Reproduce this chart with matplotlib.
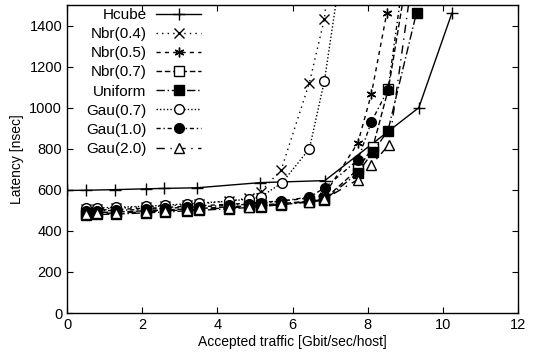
import numpy as np
import matplotlib
matplotlib.use("Agg")
import matplotlib.pyplot as plt

plt.rcParams['font.family'] = ['Liberation Sans', 'DejaVu Sans']
plt.rcParams['font.size'] = 10

# data
x_hcube = [0.0, 0.5, 1.28, 2.1, 2.58, 3.46, 5.13, 6.86, 9.36, 10.24]
y_hcube = [597, 598, 601, 605, 607, 610, 635, 645, 1000, 1460]

x_flat = [0.5, 0.8, 1.3, 2.1, 2.6, 3.2, 3.5, 4.3, 4.85, 5.15]

x_nbr04 = x_flat + [5.7, 6.45, 6.85, 7.1]
y_nbr04 = [505, 508, 510, 518, 522, 528, 532, 545, 560, 590, 698, 1122, 1434, 1900]

x_nbr05 = x_flat + [5.7, 6.45, 6.85, 7.74, 8.1, 8.51]
y_nbr05 = [500, 502, 505, 510, 514, 520, 522, 530, 535, 540, 545, 560, 575, 829, 1068, 1463]

x_nbr07 = x_flat + [5.7, 6.45, 6.85, 7.74, 8.14, 8.55, 9.1]
y_nbr07 = [488, 490, 492, 498, 502, 507, 509, 517, 522, 526, 533, 545, 555, 700, 810, 1090, 1700]

x_unif = x_flat + [5.7, 6.45, 6.85, 7.74, 8.14, 8.54, 9.3]
y_unif = [478, 480, 482, 488, 492, 498, 500, 508, 514, 518, 528, 540, 550, 683, 785, 888, 1463]

x_gau07 = x_flat + [5.72, 6.45, 6.85, 7.8]
y_gau07 = [510, 512, 515, 520, 525, 532, 535, 545, 555, 565, 634, 800, 1132, 2300]

x_gau10 = x_flat + [5.7, 6.45, 6.86, 7.74, 8.1, 8.54, 9.0]
y_gau10 = [495, 497, 500, 505, 510, 515, 517, 525, 530, 535, 545, 565, 610, 746, 932, 1088, 1700]

x_gau20 = x_flat + [5.7, 6.45, 6.85, 7.74, 8.1, 8.57, 9.2]
y_gau20 = [483, 485, 487, 493, 497, 503, 505, 512, 518, 522, 530, 543, 555, 650, 722, 820, 1650]

fig = plt.figure(figsize=(5.37, 3.59), dpi=100)
ax = fig.add_axes([0.1248, 0.128, 0.8398, 0.858])

k = dict(color='black', lw=1.0, ms=7, clip_on=True)
ax.plot(x_hcube, y_hcube, '-', marker='+', ms=9, mew=1.0, label='Hcube', color='black', lw=1.0)
ax.plot(x_nbr04, y_nbr04, linestyle=(0, (1, 3)), marker='x', mew=1.0, label='Nbr(0.4)', **k)
ax.plot(x_nbr05, y_nbr05, linestyle=(0, (3, 3)), marker=(6, 2, 0), mew=1.0, label='Nbr(0.5)', **k)
ax.plot(x_nbr07, y_nbr07, linestyle=(0, (4, 2)), marker='s', mfc='white', mew=1.0, label='Nbr(0.7)', **k)
ax.plot(x_unif, y_unif, linestyle=(0, (6, 2, 1, 2)), marker='s', mfc='black', label='Uniform', **k)
ax.plot(x_gau07, y_gau07, linestyle=(0, (1, 1.5)), marker='o', mfc='white', mew=1.0, label='Gau(0.7)', **k)
ax.plot(x_gau10, y_gau10, linestyle=(0, (3, 2, 1, 2)), marker='o', mfc='black', label='Gau(1.0)', **k)
ax.plot(x_gau20, y_gau20, linestyle=(0, (6, 4, 1, 4)), marker='^', mfc='white', mew=1.0, label='Gau(2.0)', **k)

ax.set_xlim(0, 12)
ax.set_ylim(0, 1500)
ax.set_xticks(np.arange(0, 13, 2))
ax.set_yticks(np.arange(0, 1401, 200))
ax.tick_params(direction='in', top=True, right=True, length=4.5, width=0.8, labelsize=10.5)
for s in ax.spines.values():
    s.set_linewidth(1.0)
ax.set_xlabel('Accepted traffic [Gbit/sec/host]', fontsize=10, labelpad=2)
ax.set_ylabel('Latency [nsec]', fontsize=10, labelpad=4)

ax.legend(loc='upper left', bbox_to_anchor=(0.022, 1.02), frameon=False, markerfirst=False,
          handlelength=3.0, handletextpad=0.6, labelspacing=0.335, borderaxespad=0.2,
          fontsize=11)

fig.savefig('out.png', dpi=100)
